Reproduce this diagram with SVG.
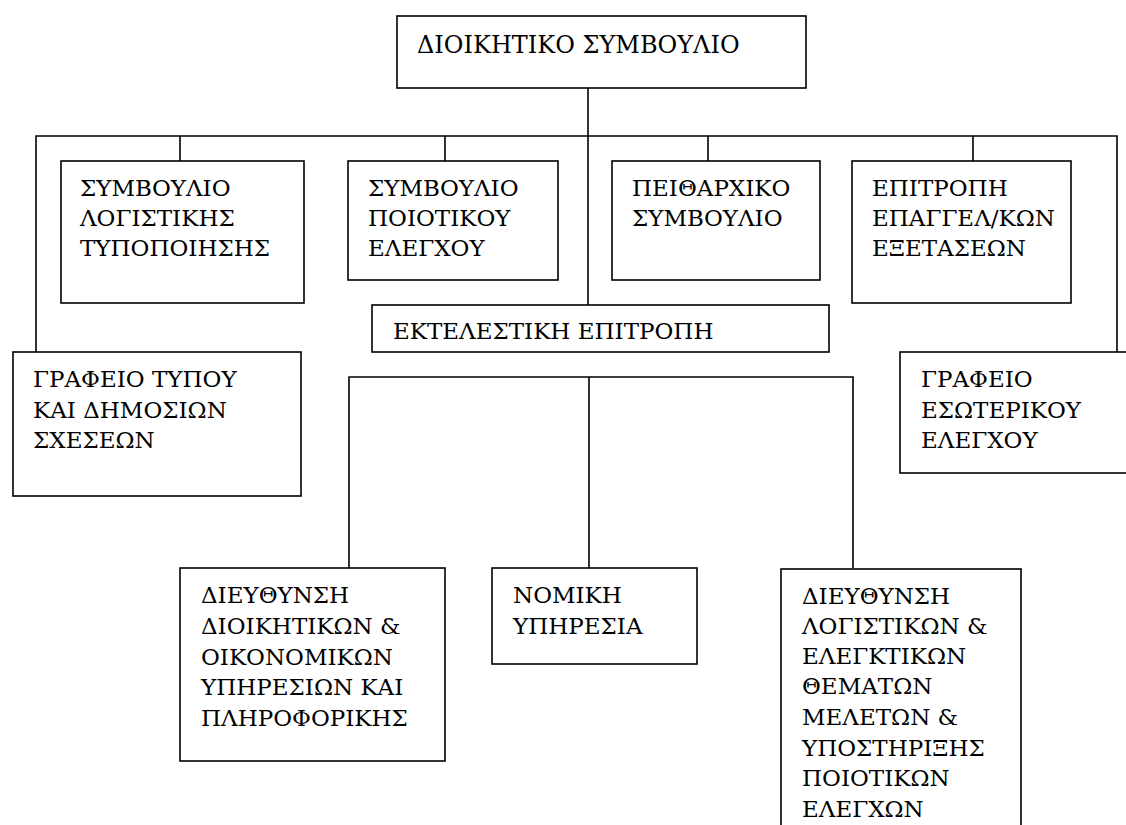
<svg xmlns="http://www.w3.org/2000/svg" width="1126" height="825" viewBox="0 0 1126 825">
<style>
.box{fill:#fff;stroke:#000;stroke-width:1.6}
.ln{fill:none;stroke:#000;stroke-width:1.6}
</style>
<rect width="1126" height="825" fill="#fff"/>
<g id="connectors">
<path class="ln" d="M588 88V305"/>
<path class="ln" d="M36 352V136H1117V352"/>
<path class="ln" d="M180 136V161M445 136V161M708 136V161M973 136V161"/>
<path class="ln" d="M349 568V377H853V568M589 377V568"/>
</g>
<g font-family="DejaVu Serif, serif" font-size="23" fill="#000">
<g id="n_board"><rect class="box" x="397" y="16" width="409" height="72"/><text x="417" y="53" font-size="24">ΔΙΟΙΚΗΤΙΚΟ ΣΥΜΒΟΥΛΙΟ</text></g>
<g id="n_logist"><rect class="box" x="61" y="161" width="243" height="142"/><text x="80" y="196">ΣΥΜΒΟΥΛΙΟ</text><text x="80" y="226">ΛΟΓΙΣΤΙΚΗΣ</text><text x="80" y="256">ΤΥΠΟΠΟΙΗΣΗΣ</text></g>
<g id="n_quality"><rect class="box" x="348" y="161" width="210" height="119"/><text x="368" y="196">ΣΥΜΒΟΥΛΙΟ</text><text x="368" y="226">ΠΟΙΟΤΙΚΟΥ</text><text x="368" y="256">ΕΛΕΓΧΟΥ</text></g>
<g id="n_discipl"><rect class="box" x="612" y="161" width="208" height="119"/><text x="632" y="196">ΠΕΙΘΑΡΧΙΚΟ</text><text x="632" y="226">ΣΥΜΒΟΥΛΙΟ</text></g>
<g id="n_exams"><rect class="box" x="852" y="161" width="219" height="142"/><text x="872" y="196">ΕΠΙΤΡΟΠΗ</text><text x="872" y="226">ΕΠΑΓΓΕΛ/ΚΩΝ</text><text x="872" y="256">ΕΞΕΤΑΣΕΩΝ</text></g>
<g id="n_exec"><rect class="box" x="372" y="305" width="457" height="47"/><text x="393" y="339">ΕΚΤΕΛΕΣΤΙΚΗ ΕΠΙΤΡΟΠΗ</text></g>
<g id="n_press"><rect class="box" x="13" y="352" width="288" height="144"/><text x="33" y="387">ΓΡΑΦΕΙΟ ΤΥΠΟΥ</text><text x="33" y="418">ΚΑΙ ΔΗΜΟΣΙΩΝ</text><text x="33" y="448">ΣΧΕΣΕΩΝ</text></g>
<g id="n_audit"><rect class="box" x="900" y="352" width="240" height="121"/><text x="921" y="387">ΓΡΑΦΕΙΟ</text><text x="921" y="418">ΕΣΩΤΕΡΙΚΟΥ</text><text x="921" y="448">ΕΛΕΓΧΟΥ</text></g>
<g id="n_admin"><rect class="box" x="180" y="568" width="265" height="193"/><text x="201" y="603">ΔΙΕΥΘΥΝΣΗ</text><text x="201" y="634">ΔΙΟΙΚΗΤΙΚΩΝ &amp;</text><text x="201" y="665">ΟΙΚΟΝΟΜΙΚΩΝ</text><text x="201" y="695">ΥΠΗΡΕΣΙΩΝ ΚΑΙ</text><text x="201" y="726">ΠΛΗΡΟΦΟΡΙΚΗΣ</text></g>
<g id="n_legal"><rect class="box" x="492" y="568" width="205" height="96"/><text x="513" y="603">ΝΟΜΙΚΗ</text><text x="513" y="634">ΥΠΗΡΕΣΙΑ</text></g>
<g id="n_account"><rect class="box" x="781" y="569" width="240" height="270"/><text x="802" y="604">ΔΙΕΥΘΥΝΣΗ</text><text x="802" y="634">ΛΟΓΙΣΤΙΚΩΝ &amp;</text><text x="802" y="664">ΕΛΕΓΚΤΙΚΩΝ</text><text x="802" y="694">ΘΕΜΑΤΩΝ</text><text x="802" y="725">ΜΕΛΕΤΩΝ &amp;</text><text x="802" y="756">ΥΠΟΣΤΗΡΙΞΗΣ</text><text x="802" y="786">ΠΟΙΟΤΙΚΩΝ</text><text x="802" y="817">ΕΛΕΓΧΩΝ</text></g>
</g>
</svg>
